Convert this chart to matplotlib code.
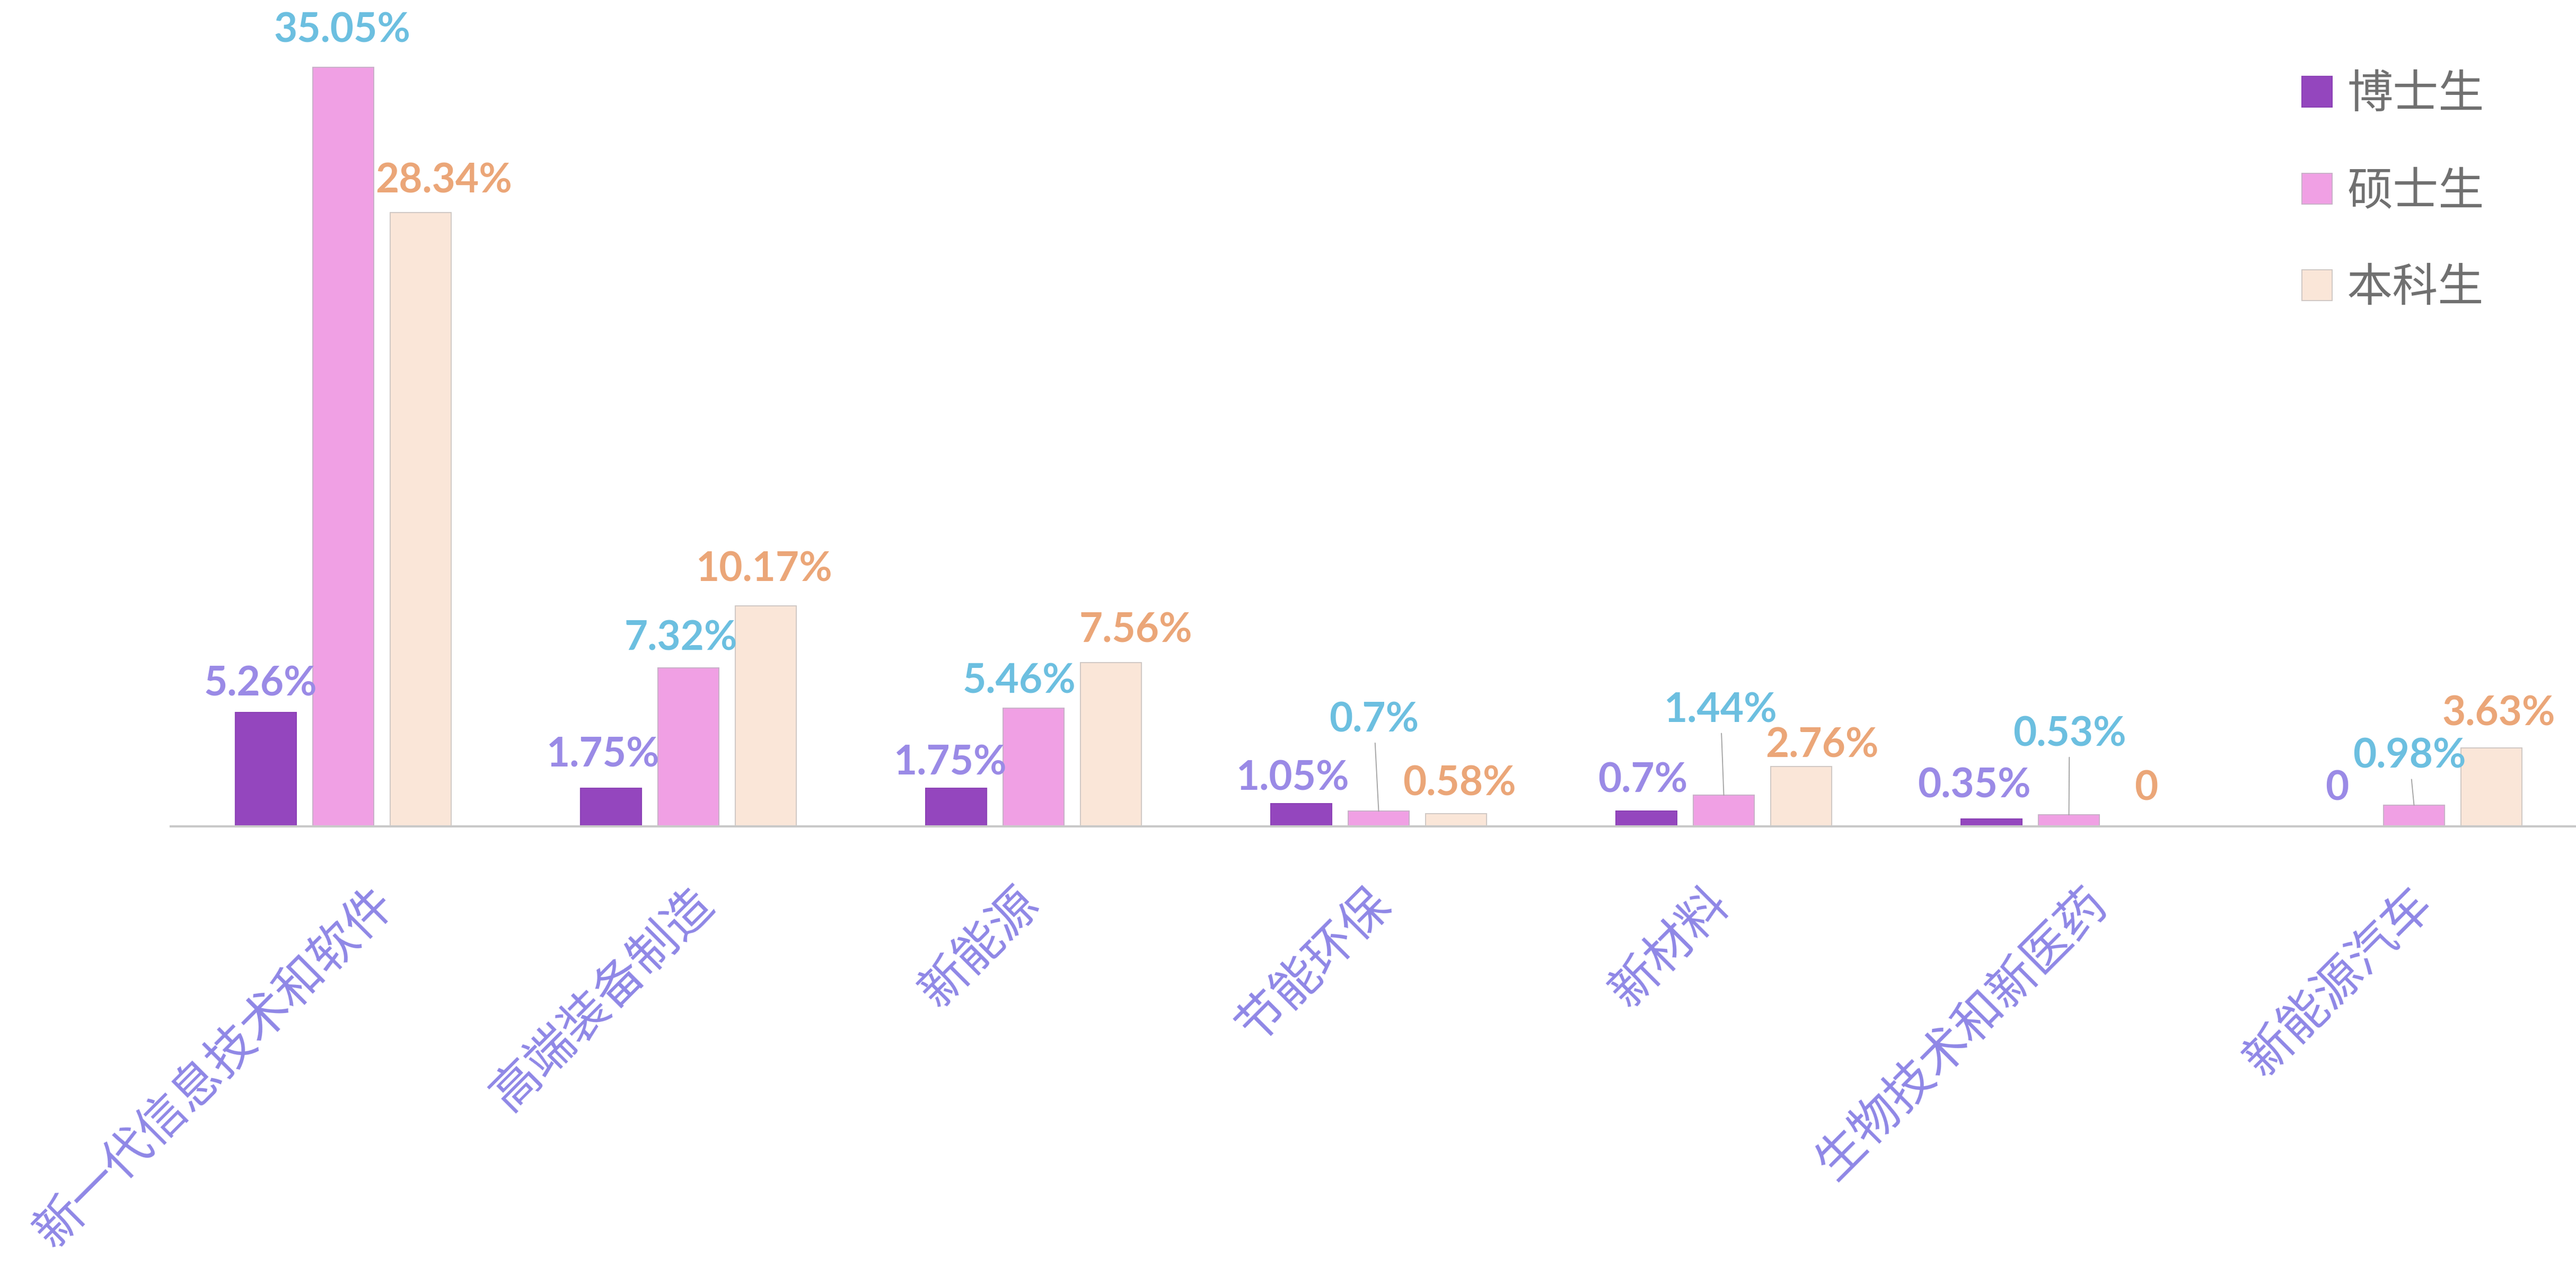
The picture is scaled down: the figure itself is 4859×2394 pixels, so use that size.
import numpy as np
import matplotlib.pyplot as plt
from matplotlib.patches import Patch

plt.rcParams['font.family'] = ['Noto Sans CJK SC', 'DejaVu Sans']

categories = ['新一代信息技术和软件', '高端装备制造', '新能源', '节能环保',
              '新材料', '生物技术和新医药', '新能源汽车']
series_names = ['博士生', '硕士生', '本科生']
phd = [5.26, 1.75, 1.75, 1.05, 0.7, 0.35, 0]
master = [35.05, 7.32, 5.46, 0.7, 1.44, 0.53, 0.98]
bachelor = [28.34, 10.17, 7.56, 0.58, 2.76, 0, 3.63]

bar_colors = ['#9446BE', '#F0A0E4', '#FAE6D8']
edge_colors = ['#8A40B4', '#C8B0C8', '#CFC8C4']
label_colors = ['#9A8AE6', '#6CBFE0', '#EBA678']

# label offsets in pixels from the top of each bar (moved by hand in the original)
offsets = [
    [(-10, 54), (-15, 63), (-11, 48), (-16, 48), (-7, 58), (-33, 62), (1, 71)],
    [(-2, 69), (-14, 55), (-27, 50), (-9, 172), (-6, 160), (1, 152), (-9, 92)],
    [(44, 60), (-2, 69), (47, 61), (7, 57), (40, 40), (0, 71), (14, 64)],
]
leader_lines = [(1, 3), (1, 4), (1, 5), (1, 6)]

W, H = 4859, 2394
fig = plt.figure(figsize=(W / 100, H / 100), dpi=100)
ax = fig.add_axes([322 / W, (H - 1559) / H, 7 * 651 / W, 38 * 40.86 / H])

x = np.arange(len(categories))
shift = [-0.224, 0, 0.224]
bw = 0.177
series = [phd, master, bachelor]

for s, vals in enumerate(series):
    ax.bar(x + shift[s], vals, bw, color=bar_colors[s], edgecolor=edge_colors[s],
           linewidth=1.4, zorder=2)
    for i, v in enumerate(vals):
        txt = f'{v:g}%' if v else '0'
        kw = {}
        if (s, i) in leader_lines:
            kw['arrowprops'] = dict(arrowstyle='-', color='#A0A0A0', lw=1.3,
                                    shrinkA=4, shrinkB=0)
        ax.annotate(txt, xy=(x[i] + shift[s], v), xytext=offsets[s][i],
                    textcoords='offset pixels', ha='center', va='center',
                    fontsize=55, fontweight='bold', family='Lato',
                    color=label_colors[s], annotation_clip=False, zorder=3, **kw)

# rotated category labels
for i, cat in enumerate(categories):
    ax.annotate(cat, xy=(x[i], 0), xycoords=('data', 'axes fraction'),
                xytext=(12.4 * len(cat) - 75, -99), textcoords='offset pixels',
                rotation=45, rotation_mode='anchor', ha='right', va='top',
                fontsize=66, color='#8F87E6', annotation_clip=False)

ax.set_xlim(-0.5, 6.5)
ax.set_ylim(0, 38)
ax.set_xticks([])
ax.set_yticks([])
for side in ['top', 'right', 'left']:
    ax.spines[side].set_visible(False)
ax.spines['bottom'].set_color('#C9C9C9')
ax.spines['bottom'].set_linewidth(3)

handles = [Patch(facecolor=bar_colors[k], edgecolor=edge_colors[k], linewidth=1.4)
           for k in range(3)]
ax.legend(handles, series_names, loc='upper left',
          bbox_to_anchor=(4342 / W, 1 - 135 / H), bbox_transform=fig.transFigure,
          frameon=False, fontsize=62, handlelength=0.66, handleheight=0.66,
          handletextpad=0.33, labelspacing=1.09, borderpad=0, borderaxespad=0,
          labelcolor='#707070')

fig.savefig('out.png', dpi=100)
